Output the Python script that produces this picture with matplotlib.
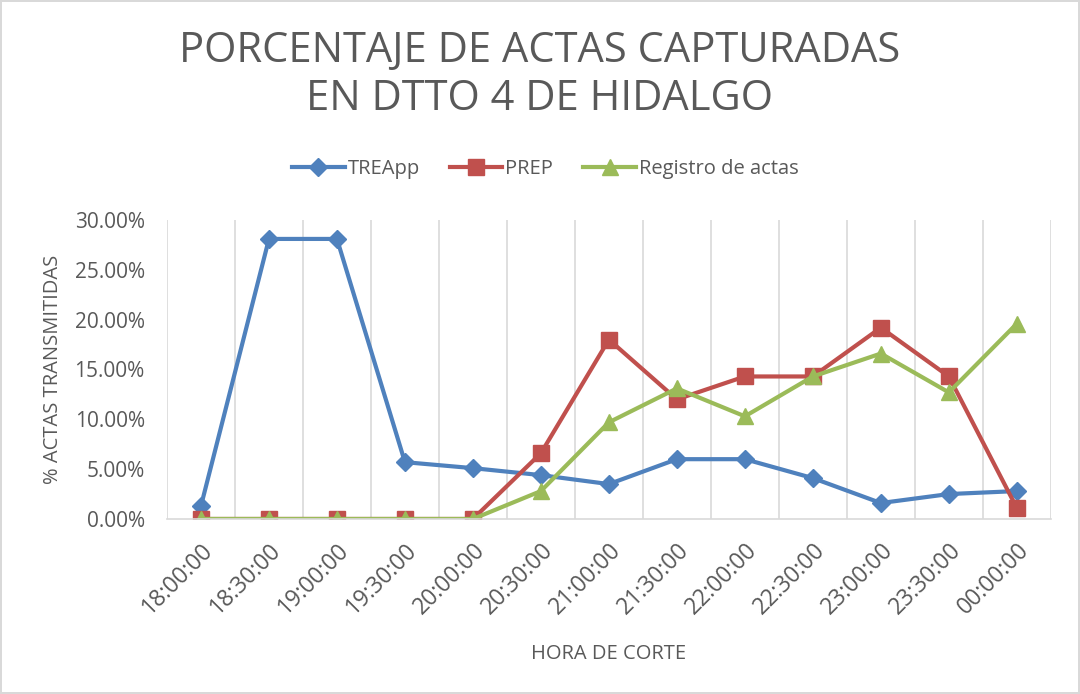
import matplotlib
matplotlib.use("Agg")
import matplotlib.pyplot as plt
from matplotlib.ticker import PercentFormatter

# datos
horas = ["18:00:00", "18:30:00", "19:00:00", "19:30:00", "20:00:00", "20:30:00",
         "21:00:00", "21:30:00", "22:00:00", "22:30:00", "23:00:00", "23:30:00",
         "00:00:00"]
treapp = [1.3, 28.1, 28.1, 5.7, 5.1, 4.4, 3.5, 6.0, 6.0, 4.1, 1.6, 2.5, 2.8]
prep = [0, 0, 0, 0, 0, 6.6, 18.0, 12.0, 14.3, 14.3, 19.2, 14.3, 1.1]
registro = [0, 0, 0, 0, 0, 2.8, 9.7, 13.1, 10.3, 14.3, 16.6, 12.7, 19.6]

gris = "#595959"
plt.rcParams['font.family'] = ['Open Sans', 'DejaVu Sans']

fig = plt.figure(figsize=(10.8, 6.94), dpi=100)
fig.patch.set_edgecolor("#d9d9d9")
fig.patch.set_linewidth(1.5)
ax = fig.add_axes([0.1546, 0.2522, 0.8184, 0.4308])

x = range(len(horas))
ax.plot(x, treapp, color="#4F81BD", lw=3, marker="D", ms=9, label="TREApp")
ax.plot(x, prep, color="#C0504D", lw=3, marker="s", ms=11, label="PREP")
ax.plot(x, registro, color="#9BBB59", lw=3, marker="^", ms=12, label="Registro de actas")

ax.set_xlim(-0.5, len(horas) - 0.5)
ax.set_ylim(0, 30)
ax.set_yticks([0, 5, 10, 15, 20, 25, 30])
ax.yaxis.set_major_formatter(PercentFormatter(decimals=2))
ax.set_xticks(list(x))
ax.set_xticklabels(horas, rotation=45, ha="right", rotation_mode="anchor")
ax.set_xticks([i - 0.5 for i in range(len(horas) + 1)], minor=True)
ax.grid(True, which="minor", axis="x", color="#d9d9d9", lw=1.2)
ax.tick_params(axis="both", which="both", length=0, colors=gris, labelsize=15)
ax.tick_params(axis="x", pad=14, labelsize=16.5)
ax.tick_params(axis="y", pad=16)
for s in ["top", "right", "left"]:
    ax.spines[s].set_visible(False)
ax.spines["bottom"].set_color("#d9d9d9")
ax.spines["bottom"].set_linewidth(1.2)

ax.set_ylabel("% ACTAS TRANSMITIDAS", color=gris, fontsize=14.5, labelpad=8)
ax.set_xlabel("HORA DE CORTE", color=gris, fontsize=14.5, labelpad=18)

fig.text(0.5, 0.892, "PORCENTAJE DE ACTAS CAPTURADAS\nEN DTTO 4 DE HIDALGO",
         ha="center", va="center", fontsize=30, color=gris, linespacing=1.2)

leg = fig.legend(loc="center", bbox_to_anchor=(0.505, 0.757), ncol=3,
                 frameon=False, fontsize=14.5, handlelength=2.6, columnspacing=1.5,
                 handletextpad=0.15)
for t in leg.get_texts():
    t.set_color(gris)

fig.savefig("out.png", dpi=100)
